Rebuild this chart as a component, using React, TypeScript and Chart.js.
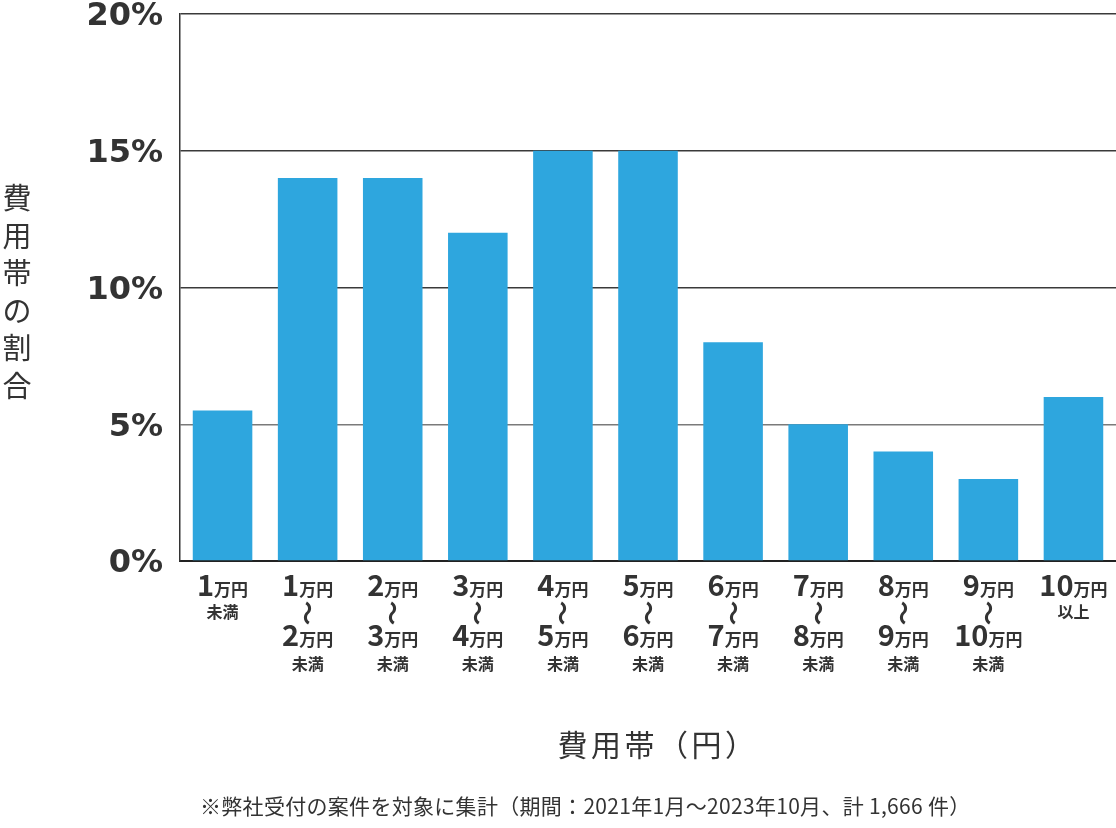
import React, { useEffect, useRef } from 'react';
import { Chart, registerables, type ChartConfiguration, type Plugin } from 'chart.js';

Chart.register(...registerables);

// 費用帯ごとの割合（%）
const categories = [
  '1万円未満',
  '1万円〜2万円未満',
  '2万円〜3万円未満',
  '3万円〜4万円未満',
  '4万円〜5万円未満',
  '5万円〜6万円未満',
  '6万円〜7万円未満',
  '7万円〜8万円未満',
  '8万円〜9万円未満',
  '9万円〜10万円未満',
  '10万円以上',
];
const shares = [5.5, 14, 14, 12, 15, 15, 8, 5, 4, 3, 6];

// x軸ラベル（行ごと）
const tickLines: string[][] = [
  ['1万円', '未満'],
  ['1万円', '〜', '2万円', '未満'],
  ['2万円', '〜', '3万円', '未満'],
  ['3万円', '〜', '4万円', '未満'],
  ['4万円', '〜', '5万円', '未満'],
  ['5万円', '〜', '6万円', '未満'],
  ['6万円', '〜', '7万円', '未満'],
  ['7万円', '〜', '8万円', '未満'],
  ['8万円', '〜', '9万円', '未満'],
  ['9万円', '〜', '10万円', '未満'],
  ['10万円', '以上'],
];

const yTicks = [0, 5, 10, 15, 20];
const yTitle = '費用帯の割合';
const xTitle = '費用帯（円）';
const footnote = '※弊社受付の案件を対象に集計（期間：2021年1月～2023年10月、計 1,666 件）';

const JP = '"Noto Sans CJK JP", "Noto Sans", sans-serif';
const TEXT = '#333333';

const drawAmount = (ctx: CanvasRenderingContext2D, text: string, cx: number, baseline: number) => {
  const m = text.match(/^(\d+)(.*)$/);
  const num = m ? m[1] : text;
  const unit = m ? m[2] : '';
  ctx.font = `bold 29px ${JP}`;
  const wNum = ctx.measureText(num).width;
  ctx.font = `bold 17px ${JP}`;
  const wUnit = ctx.measureText(unit).width;
  const start = cx - (wNum + wUnit) / 2;
  ctx.textAlign = 'left';
  ctx.textBaseline = 'alphabetic';
  ctx.font = `bold 29px ${JP}`;
  ctx.fillText(num, start, baseline);
  ctx.font = `bold 17px ${JP}`;
  ctx.fillText(unit, start + wNum, baseline);
};

const textPlugin: Plugin<'bar'> = {
  id: 'customText',
  afterDraw(chart) {
    const { ctx, chartArea, scales } = chart;
    const x = scales.x;
    ctx.save();
    ctx.fillStyle = TEXT;

    tickLines.forEach((lines, i) => {
      const cx = x.getPixelForValue(i);
      drawAmount(ctx, lines[0], cx, 596);
      ctx.textAlign = 'center';
      ctx.textBaseline = 'middle';
      if (lines.length === 2) {
        ctx.font = `bold 16px ${JP}`;
        ctx.fillText(lines[1], cx, 612);
      } else {
        ctx.save();
        ctx.translate(cx, 613);
        ctx.rotate(Math.PI / 2);
        ctx.font = `bold 25px ${JP}`;
        ctx.fillText(lines[1], 0, 0);
        ctx.restore();
        drawAmount(ctx, lines[2], cx, 646);
        ctx.font = `bold 16px ${JP}`;
        ctx.textAlign = 'center';
        ctx.textBaseline = 'middle';
        ctx.fillText(lines[3], cx, 664);
      }
    });

    // 縦書きのy軸タイトル
    ctx.font = `29px ${JP}`;
    ctx.textAlign = 'center';
    ctx.textBaseline = 'middle';
    Array.from(yTitle).forEach((ch, i) => {
      ctx.fillText(ch, 17, 198 + i * 37.5);
    });

    // x軸タイトル
    ctx.font = `30px ${JP}`;
    (ctx as any).letterSpacing = '3.5px';
    ctx.fillText(xTitle, (chartArea.left + chartArea.right) / 2 + 10, 745);

    // 注記
    ctx.font = `21px ${JP}`;
    (ctx as any).letterSpacing = '0.3px';
    ctx.textAlign = 'left';
    ctx.fillText(footnote, 200, 806);
    (ctx as any).letterSpacing = '0px';

    ctx.restore();
  },
};

export default function App() {
  const canvasRef = useRef<HTMLCanvasElement | null>(null);
  const chartRef = useRef<Chart<'bar'> | null>(null);

  useEffect(() => {
    if (!canvasRef.current) return;

    const config: ChartConfiguration<'bar'> = {
      type: 'bar',
      data: {
        labels: categories,
        datasets: [
          {
            label: '費用帯の割合',
            data: shares,
            backgroundColor: '#2ea6de',
            borderWidth: 0,
            barPercentage: 0.7,
            categoryPercentage: 1,
          },
        ],
      },
      options: {
        responsive: true,
        maintainAspectRatio: false,
        animation: false,
        layout: { padding: 0 },
        plugins: {
          legend: { display: false },
          tooltip: { enabled: false },
        },
        scales: {
          x: {
            grid: { display: false },
            border: { display: true, color: '#222222', width: 2 },
            ticks: { display: false },
            afterFit: (scale) => {
              scale.height = 267;
            },
          },
          y: {
            min: 0,
            max: 20,
            afterBuildTicks: (scale) => {
              scale.ticks = yTicks.map((value) => ({ value }));
            },
            grid: {
              drawTicks: false,
              color: (ctx) => (ctx.tick && ctx.tick.value === 5 ? '#7a7a7a' : '#3a3a3a'),
              lineWidth: 1.5,
            },
            border: { display: true, color: '#333333', width: 1.5 },
            ticks: {
              padding: 17,
              labelOffset: 3,
              color: TEXT,
              font: { family: '"DejaVu Sans", sans-serif', weight: 'bold', size: 32, lineHeight: 0.875 },
              callback: (v) => `${v}%`,
            },
            afterFit: (scale) => {
              scale.width = 180;
              scale.paddingTop = 14;
              scale.paddingBottom = 0;
            },
          },
        },
      },
      plugins: [textPlugin],
    };

    chartRef.current = new Chart(canvasRef.current, config);

    return () => {
      if (chartRef.current) {
        chartRef.current.destroy();
        chartRef.current = null;
      }
    };
  }, []);

  return (
    <div style={{ position: 'absolute', left: 0, top: 0, width: 1116, height: 828, background: '#fff' }}>
      <canvas ref={canvasRef} />
    </div>
  );
}
